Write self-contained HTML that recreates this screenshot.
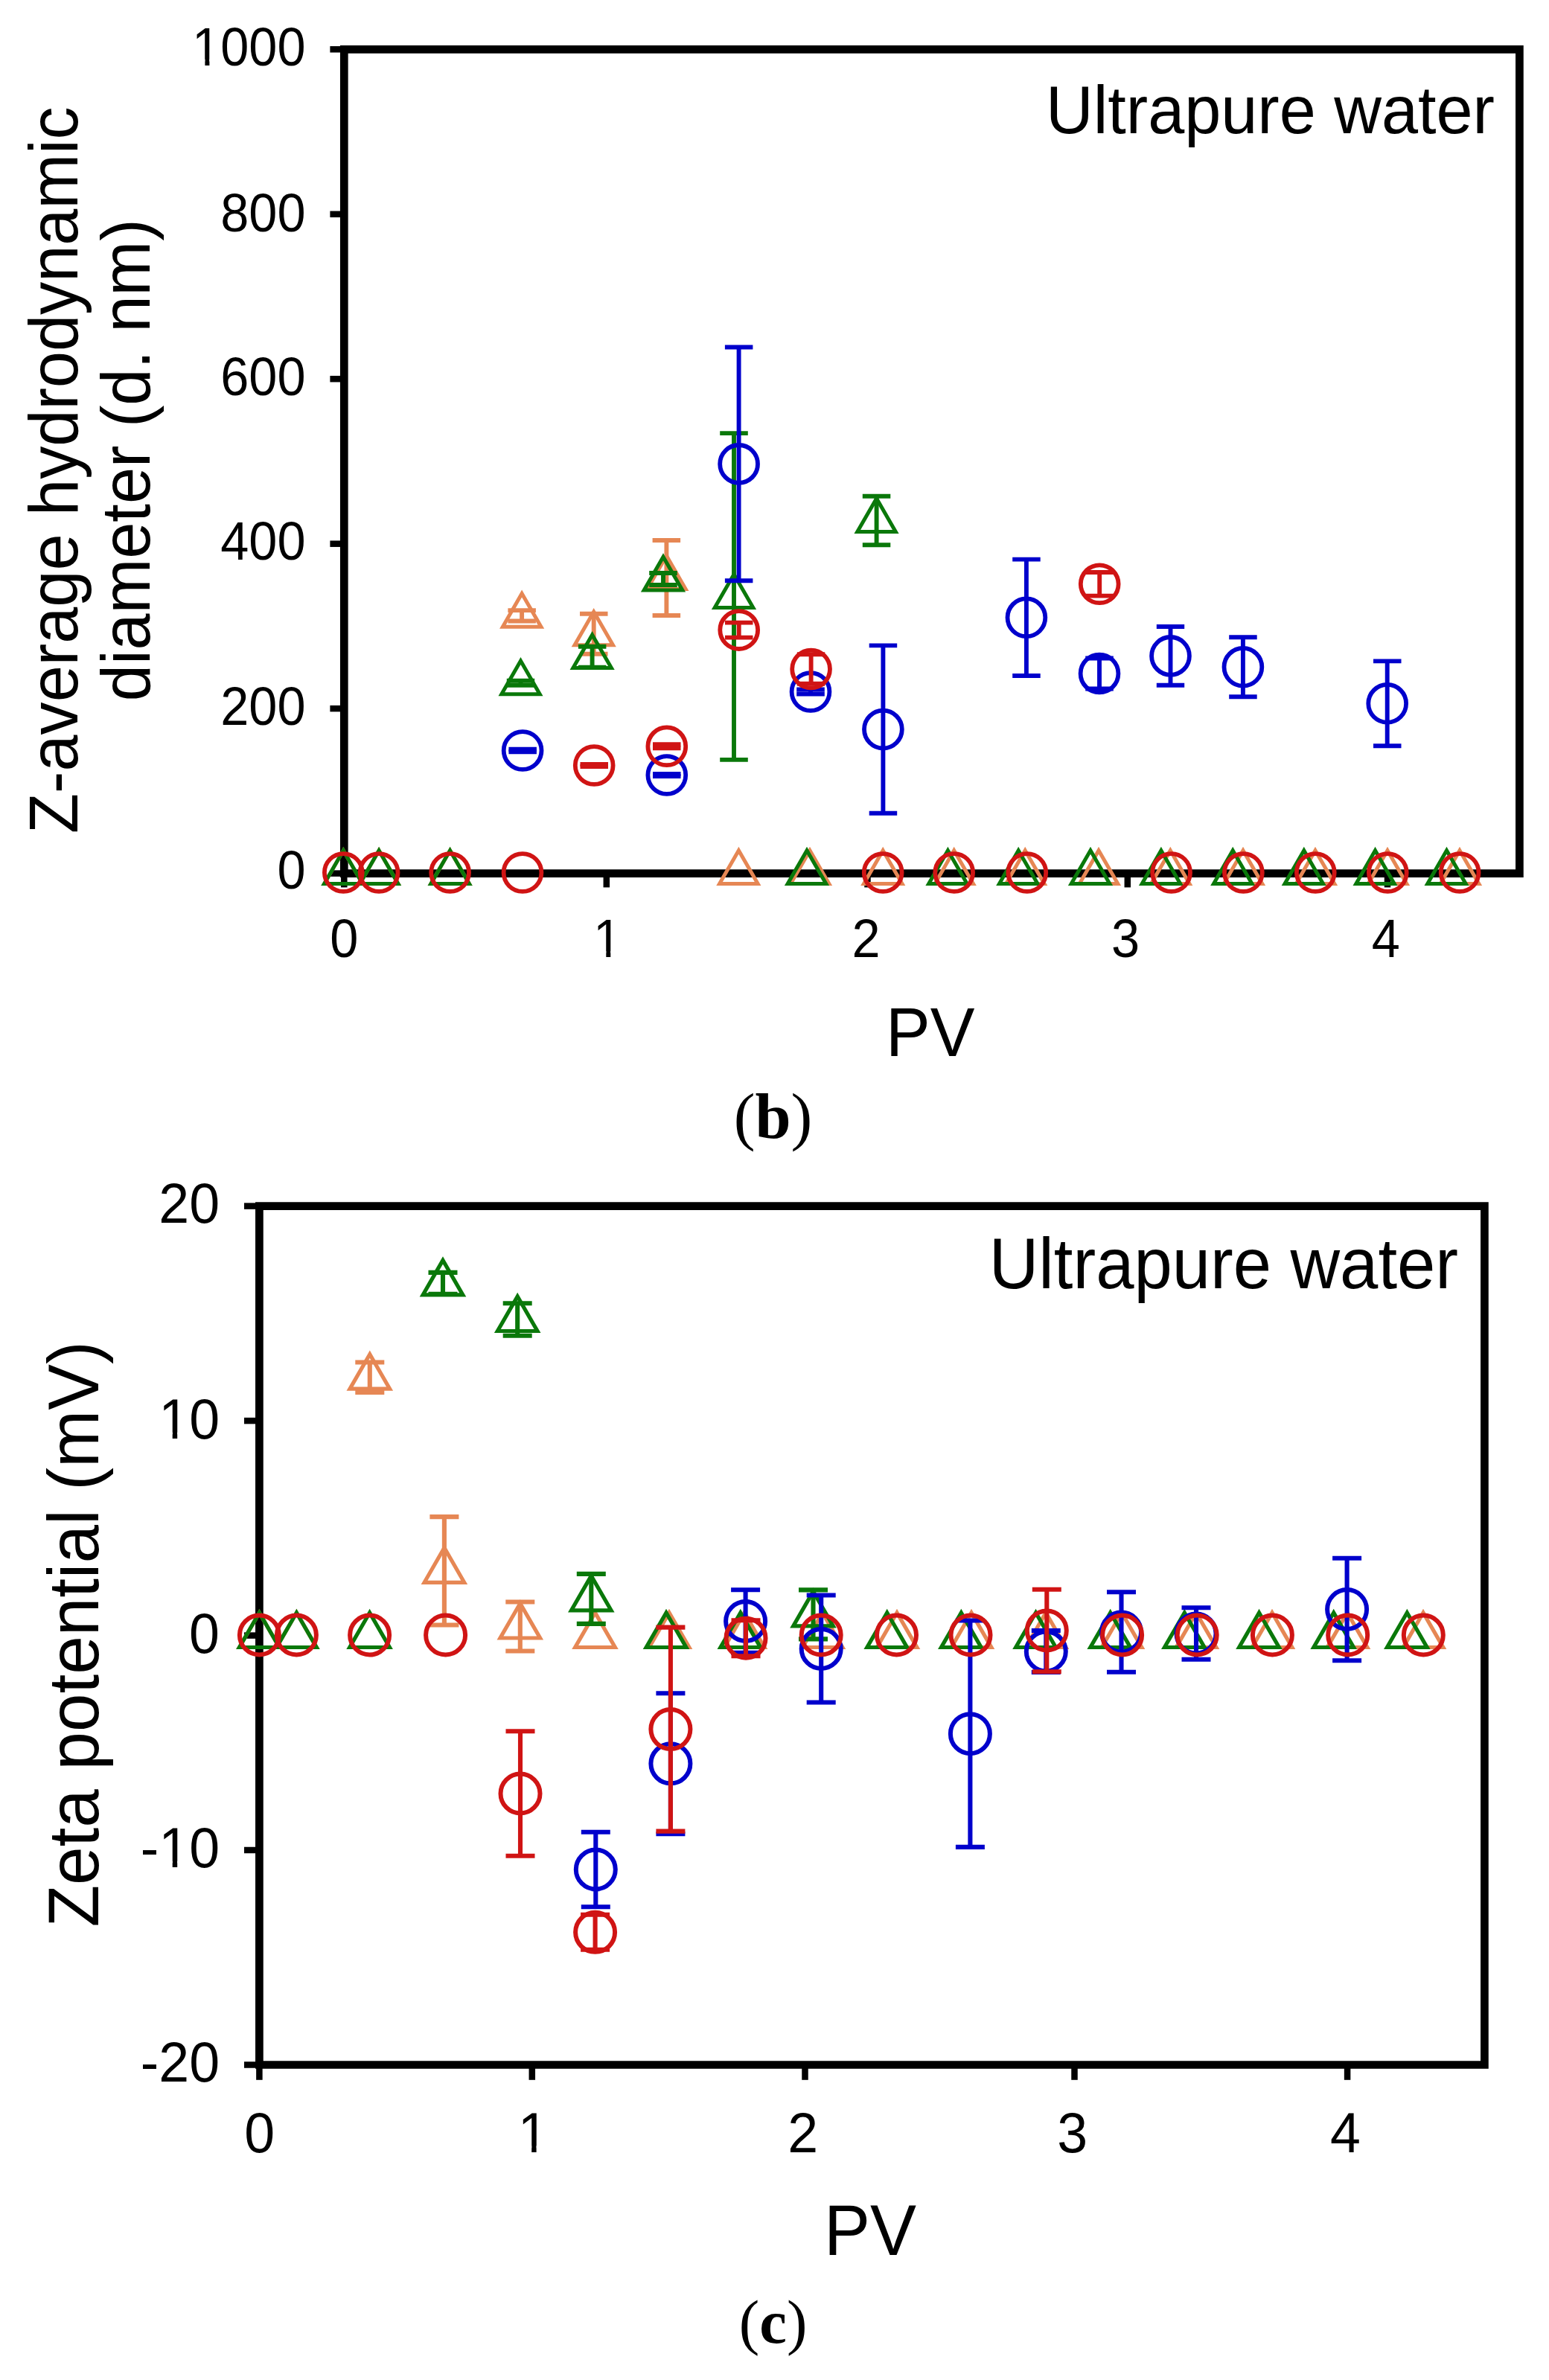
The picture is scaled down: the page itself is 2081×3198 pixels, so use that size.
<!DOCTYPE html>
<html><head><meta charset="utf-8"><title>Figure</title>
<style>html,body{margin:0;padding:0;background:#fff;overflow:hidden;width:2081px;height:3198px;}svg{display:block;}</style>
</head><body>
<svg width="2081" height="3198" viewBox="0 0 2081 3198">
<rect width="2081" height="3198" fill="#fff"/>
<g stroke="#000" fill="none"><path d="M462.3 66.3H2041.4V1173.6H462.3Z" stroke-width="10.7" stroke-linejoin="miter"/><line x1="462.3" y1="1173.6" x2="462.3" y2="1192.4" stroke-width="8.5"/><line x1="814.8" y1="1173.6" x2="814.8" y2="1192.4" stroke-width="8.5"/><line x1="1165.5" y1="1173.6" x2="1165.5" y2="1192.4" stroke-width="8.5"/><line x1="1514.8" y1="1173.6" x2="1514.8" y2="1192.4" stroke-width="8.5"/><line x1="1864" y1="1173.6" x2="1864" y2="1192.4" stroke-width="8.5"/><line x1="462.3" y1="1173.6" x2="443.4" y2="1173.6" stroke-width="8.5"/><line x1="462.3" y1="952.1" x2="443.4" y2="952.1" stroke-width="8.5"/><line x1="462.3" y1="730.7" x2="443.4" y2="730.7" stroke-width="8.5"/><line x1="462.3" y1="509.2" x2="443.4" y2="509.2" stroke-width="8.5"/><line x1="462.3" y1="287.8" x2="443.4" y2="287.8" stroke-width="8.5"/><line x1="462.3" y1="66.3" x2="443.4" y2="66.3" stroke-width="8.5"/></g>
<g stroke="#e68754" fill="none"><g stroke-width="5.9" stroke-linecap="butt"><line x1="701.1" y1="820.1" x2="701.1" y2="834.5"/><line x1="682.4" y1="820.1" x2="719.9" y2="820.1"/><line x1="682.4" y1="834.5" x2="719.9" y2="834.5"/><line x1="797.7" y1="824.8" x2="797.7" y2="878.8"/><line x1="779" y1="824.8" x2="816.5" y2="824.8"/><line x1="779" y1="878.8" x2="816.5" y2="878.8"/><line x1="895.4" y1="726" x2="895.4" y2="827"/><line x1="876.6" y1="726" x2="914.1" y2="726"/><line x1="876.6" y1="827" x2="914.1" y2="827"/></g><g stroke-width="5" stroke-linejoin="miter" stroke-miterlimit="10"><polygon points="461.3,1142.8 435.6,1187.4 487.1,1187.4"/><polygon points="509.1,1142.8 483.4,1187.4 534.9,1187.4"/><polygon points="604.6,1142.8 578.9,1187.4 630.4,1187.4"/><polygon points="701.1,797.6 675.4,842.2 726.9,842.2"/><polygon points="797.7,822.1 772,866.7 823.5,866.7"/><polygon points="895.4,746.8 869.6,791.4 921.1,791.4"/><polygon points="992.4,1142.8 966.6,1187.4 1018.1,1187.4"/><polygon points="1088,1142.8 1062.2,1187.4 1113.8,1187.4"/><polygon points="1186.2,1142.8 1160.5,1187.4 1212,1187.4"/><polygon points="1281.7,1142.8 1256,1187.4 1307.5,1187.4"/><polygon points="1377.2,1142.8 1351.5,1187.4 1403,1187.4"/><polygon points="1476,1142.8 1450.2,1187.4 1501.8,1187.4"/><polygon points="1572.3,1142.8 1546.5,1187.4 1598,1187.4"/><polygon points="1670,1142.8 1644.2,1187.4 1695.8,1187.4"/><polygon points="1767,1142.8 1741.2,1187.4 1792.8,1187.4"/><polygon points="1864,1142.8 1838.2,1187.4 1889.8,1187.4"/><polygon points="1961,1142.8 1935.2,1187.4 1986.8,1187.4"/></g></g>
<g stroke="#0a780a" fill="none"><g stroke-width="5.9" stroke-linecap="butt"><line x1="699.5" y1="914.8" x2="699.5" y2="920.8"/><line x1="680.8" y1="914.8" x2="718.2" y2="914.8"/><line x1="680.8" y1="920.8" x2="718.2" y2="920.8"/><line x1="795.6" y1="868.7" x2="795.6" y2="896.7"/><line x1="776.9" y1="868.7" x2="814.4" y2="868.7"/><line x1="776.9" y1="896.7" x2="814.4" y2="896.7"/><line x1="891" y1="770" x2="891" y2="786"/><line x1="872.2" y1="770" x2="909.8" y2="770"/><line x1="872.2" y1="786" x2="909.8" y2="786"/><line x1="986" y1="582.1" x2="986" y2="1020.9"/><line x1="967.2" y1="582.1" x2="1004.8" y2="582.1"/><line x1="967.2" y1="1020.9" x2="1004.8" y2="1020.9"/><line x1="1177.6" y1="666.8" x2="1177.6" y2="732.2"/><line x1="1158.8" y1="666.8" x2="1196.3" y2="666.8"/><line x1="1158.8" y1="732.2" x2="1196.3" y2="732.2"/></g><g stroke-width="5" stroke-linejoin="miter" stroke-miterlimit="10"><polygon points="461.3,1142.8 435.6,1187.4 487.1,1187.4"/><polygon points="509.1,1142.8 483.4,1187.4 534.9,1187.4"/><polygon points="604.6,1142.8 578.9,1187.4 630.4,1187.4"/><polygon points="699.5,888.1 673.8,932.7 725.2,932.7"/><polygon points="795.6,853 769.9,897.6 821.4,897.6"/><polygon points="891,748.3 865.2,792.9 916.8,792.9"/><polygon points="986,771.8 960.2,816.4 1011.8,816.4"/><polygon points="1084,1142.8 1058.2,1187.4 1109.8,1187.4"/><polygon points="1177.6,669.8 1151.8,714.4 1203.3,714.4"/><polygon points="1273.4,1142.8 1247.7,1187.4 1299.2,1187.4"/><polygon points="1368.2,1142.8 1342.5,1187.4 1394,1187.4"/><polygon points="1465,1142.8 1439.2,1187.4 1490.8,1187.4"/><polygon points="1559.9,1142.8 1534.2,1187.4 1585.7,1187.4"/><polygon points="1656.2,1142.8 1630.5,1187.4 1682,1187.4"/><polygon points="1751.8,1142.8 1726,1187.4 1777.5,1187.4"/><polygon points="1847.5,1142.8 1821.8,1187.4 1873.2,1187.4"/><polygon points="1943.5,1142.8 1917.8,1187.4 1969.2,1187.4"/></g></g>
<g stroke="#0000cc" fill="none"><g stroke-width="5.9" stroke-linecap="butt"><line x1="702.1" y1="1006.7" x2="702.1" y2="1010.3"/><line x1="683.4" y1="1006.7" x2="720.9" y2="1006.7"/><line x1="683.4" y1="1010.3" x2="720.9" y2="1010.3"/><line x1="895.8" y1="1040" x2="895.8" y2="1043"/><line x1="877" y1="1040" x2="914.5" y2="1040"/><line x1="877" y1="1043" x2="914.5" y2="1043"/><line x1="992.6" y1="466.5" x2="992.6" y2="780.3"/><line x1="973.9" y1="466.5" x2="1011.4" y2="466.5"/><line x1="973.9" y1="780.3" x2="1011.4" y2="780.3"/><line x1="1089" y1="926.5" x2="1089" y2="932.5"/><line x1="1070.2" y1="926.5" x2="1107.8" y2="926.5"/><line x1="1070.2" y1="932.5" x2="1107.8" y2="932.5"/><line x1="1186.4" y1="867.4" x2="1186.4" y2="1092.8"/><line x1="1167.7" y1="867.4" x2="1205.2" y2="867.4"/><line x1="1167.7" y1="1092.8" x2="1205.2" y2="1092.8"/><line x1="1378.9" y1="751.6" x2="1378.9" y2="908"/><line x1="1360.2" y1="751.6" x2="1397.7" y2="751.6"/><line x1="1360.2" y1="908" x2="1397.7" y2="908"/><line x1="1477" y1="884.5" x2="1477" y2="925.5"/><line x1="1458.2" y1="884.5" x2="1495.8" y2="884.5"/><line x1="1458.2" y1="925.5" x2="1495.8" y2="925.5"/><line x1="1572.5" y1="842" x2="1572.5" y2="920.8"/><line x1="1553.8" y1="842" x2="1591.2" y2="842"/><line x1="1553.8" y1="920.8" x2="1591.2" y2="920.8"/><line x1="1669.9" y1="856.3" x2="1669.9" y2="936.3"/><line x1="1651.2" y1="856.3" x2="1688.7" y2="856.3"/><line x1="1651.2" y1="936.3" x2="1688.7" y2="936.3"/><line x1="1863.7" y1="888.4" x2="1863.7" y2="1002.2"/><line x1="1845" y1="888.4" x2="1882.5" y2="888.4"/><line x1="1845" y1="1002.2" x2="1882.5" y2="1002.2"/></g><g stroke-width="5.8" stroke-linejoin="miter" stroke-miterlimit="10"><circle cx="702.1" cy="1008.5" r="25.4"/><circle cx="895.8" cy="1041.5" r="25.4"/><circle cx="992.6" cy="623.4" r="25.4"/><circle cx="1089" cy="929.5" r="25.4"/><circle cx="1186.4" cy="980.1" r="25.4"/><circle cx="1378.9" cy="829.8" r="25.4"/><circle cx="1477" cy="905" r="25.4"/><circle cx="1572.5" cy="881.4" r="25.4"/><circle cx="1669.9" cy="896.3" r="25.4"/><circle cx="1863.7" cy="945.3" r="25.4"/></g></g>
<g stroke="#d01414" fill="none"><g stroke-width="5.9" stroke-linecap="butt"><line x1="798.2" y1="1027" x2="798.2" y2="1030"/><line x1="779.5" y1="1027" x2="817" y2="1027"/><line x1="779.5" y1="1030" x2="817" y2="1030"/><line x1="895.8" y1="1000.3" x2="895.8" y2="1005.3"/><line x1="877" y1="1000.3" x2="914.5" y2="1000.3"/><line x1="877" y1="1005.3" x2="914.5" y2="1005.3"/><line x1="992.7" y1="836.6" x2="992.7" y2="856.6"/><line x1="974" y1="836.6" x2="1011.5" y2="836.6"/><line x1="974" y1="856.6" x2="1011.5" y2="856.6"/><line x1="1089.6" y1="879.2" x2="1089.6" y2="918.8"/><line x1="1070.8" y1="879.2" x2="1108.3" y2="879.2"/><line x1="1070.8" y1="918.8" x2="1108.3" y2="918.8"/><line x1="1477.2" y1="769" x2="1477.2" y2="800.6"/><line x1="1458.5" y1="769" x2="1496" y2="769"/><line x1="1458.5" y1="800.6" x2="1496" y2="800.6"/></g><g stroke-width="5.8" stroke-linejoin="miter" stroke-miterlimit="10"><circle cx="461.3" cy="1172.5" r="25.4"/><circle cx="509.1" cy="1172.5" r="25.4"/><circle cx="604.6" cy="1172.5" r="25.4"/><circle cx="702" cy="1172.5" r="25.4"/><circle cx="798.2" cy="1028.5" r="25.4"/><circle cx="895.8" cy="1002.8" r="25.4"/><circle cx="992.7" cy="846.6" r="25.4"/><circle cx="1089.6" cy="899" r="25.4"/><circle cx="1186.2" cy="1172.5" r="25.4"/><circle cx="1281.7" cy="1172.5" r="25.4"/><circle cx="1379.8" cy="1172.5" r="25.4"/><circle cx="1477.2" cy="784.8" r="25.4"/><circle cx="1573.6" cy="1172.5" r="25.4"/><circle cx="1670.4" cy="1172.5" r="25.4"/><circle cx="1767.3" cy="1172.5" r="25.4"/><circle cx="1864.3" cy="1172.5" r="25.4"/><circle cx="1961.1" cy="1172.5" r="25.4"/></g></g>
<g stroke="#000" fill="none"><path d="M348.4 1620.6H1994.4V2774.5H348.4Z" stroke-width="10.7" stroke-linejoin="miter"/><line x1="348.4" y1="2774.5" x2="348.4" y2="2794.8" stroke-width="8.5"/><line x1="714.8" y1="2774.5" x2="714.8" y2="2794.8" stroke-width="8.5"/><line x1="1081.5" y1="2774.5" x2="1081.5" y2="2794.8" stroke-width="8.5"/><line x1="1443.5" y1="2774.5" x2="1443.5" y2="2794.8" stroke-width="8.5"/><line x1="1810.1" y1="2774.5" x2="1810.1" y2="2794.8" stroke-width="8.5"/><line x1="348.4" y1="1620.6" x2="328" y2="1620.6" stroke-width="8.5"/><line x1="348.4" y1="1909.1" x2="328" y2="1909.1" stroke-width="8.5"/><line x1="348.4" y1="2197.6" x2="328" y2="2197.6" stroke-width="8.5"/><line x1="348.4" y1="2486" x2="328" y2="2486" stroke-width="8.5"/><line x1="348.4" y1="2774.5" x2="328" y2="2774.5" stroke-width="8.5"/></g>
<g stroke="#e68754" fill="none"><g stroke-width="6.1" stroke-linecap="butt"><line x1="496.8" y1="1830.5" x2="496.8" y2="1870.9"/><line x1="477.3" y1="1830.5" x2="516.3" y2="1830.5"/><line x1="477.3" y1="1870.9" x2="516.3" y2="1870.9"/><line x1="596.9" y1="2038.1" x2="596.9" y2="2183.5"/><line x1="577.4" y1="2038.1" x2="616.4" y2="2038.1"/><line x1="577.4" y1="2183.5" x2="616.4" y2="2183.5"/><line x1="698.8" y1="2152.5" x2="698.8" y2="2218.5"/><line x1="679.3" y1="2152.5" x2="718.3" y2="2152.5"/><line x1="679.3" y1="2218.5" x2="718.3" y2="2218.5"/></g><g stroke-width="5.2" stroke-linejoin="miter" stroke-miterlimit="10"><polygon points="348.4,2167 321.6,2213.5 375.2,2213.5"/><polygon points="398.4,2167 371.6,2213.5 425.2,2213.5"/><polygon points="496.8,1819.7 470,1866.2 523.6,1866.2"/><polygon points="596.9,2079.8 570.1,2126.3 623.7,2126.3"/><polygon points="698.8,2154.5 672,2201 725.6,2201"/><polygon points="799.5,2167 772.7,2213.5 826.3,2213.5"/><polygon points="899,2167 872.2,2213.5 925.8,2213.5"/><polygon points="1000,2167 973.2,2213.5 1026.8,2213.5"/><polygon points="1105,2167 1078.2,2213.5 1131.8,2213.5"/><polygon points="1205,2167 1178.2,2213.5 1231.8,2213.5"/><polygon points="1305,2167 1278.2,2213.5 1331.8,2213.5"/><polygon points="1405,2167 1378.2,2213.5 1431.8,2213.5"/><polygon points="1507,2167 1480.2,2213.5 1533.8,2213.5"/><polygon points="1607,2167 1580.2,2213.5 1633.8,2213.5"/><polygon points="1709,2167 1682.2,2213.5 1735.8,2213.5"/><polygon points="1810,2167 1783.2,2213.5 1836.8,2213.5"/><polygon points="1912,2167 1885.2,2213.5 1938.8,2213.5"/></g></g>
<g stroke="#0a780a" fill="none"><g stroke-width="6.1" stroke-linecap="butt"><line x1="595" y1="1709.9" x2="595" y2="1738.9"/><line x1="575.5" y1="1709.9" x2="614.5" y2="1709.9"/><line x1="575.5" y1="1738.9" x2="614.5" y2="1738.9"/><line x1="695.2" y1="1751.3" x2="695.2" y2="1794.7"/><line x1="675.7" y1="1751.3" x2="714.7" y2="1751.3"/><line x1="675.7" y1="1794.7" x2="714.7" y2="1794.7"/><line x1="794.3" y1="2114.9" x2="794.3" y2="2181.9"/><line x1="774.8" y1="2114.9" x2="813.8" y2="2114.9"/><line x1="774.8" y1="2181.9" x2="813.8" y2="2181.9"/><line x1="1092.5" y1="2136.4" x2="1092.5" y2="2202.4"/><line x1="1073" y1="2136.4" x2="1112" y2="2136.4"/><line x1="1073" y1="2202.4" x2="1112" y2="2202.4"/></g><g stroke-width="5.2" stroke-linejoin="miter" stroke-miterlimit="10"><polygon points="348.4,2167 321.6,2213.5 375.2,2213.5"/><polygon points="398.4,2167 371.6,2213.5 425.2,2213.5"/><polygon points="496.6,2167 469.8,2213.5 523.4,2213.5"/><polygon points="595,1693.4 568.2,1739.9 621.8,1739.9"/><polygon points="695.2,1742 668.4,1788.5 722,1788.5"/><polygon points="794.3,2117.4 767.5,2163.9 821.1,2163.9"/><polygon points="895,2167 868.2,2213.5 921.8,2213.5"/><polygon points="994.8,2167 968,2213.5 1021.6,2213.5"/><polygon points="1092.5,2138.4 1065.7,2184.9 1119.3,2184.9"/><polygon points="1191.7,2167 1164.9,2213.5 1218.5,2213.5"/><polygon points="1291.3,2167 1264.5,2213.5 1318.1,2213.5"/><polygon points="1391.5,2167 1364.7,2213.5 1418.3,2213.5"/><polygon points="1491.7,2167 1464.9,2213.5 1518.5,2213.5"/><polygon points="1591.3,2167 1564.5,2213.5 1618.1,2213.5"/><polygon points="1691.5,2167 1664.7,2213.5 1718.3,2213.5"/><polygon points="1791.7,2167 1764.9,2213.5 1818.5,2213.5"/><polygon points="1890.3,2167 1863.5,2213.5 1917.1,2213.5"/></g></g>
<g stroke="#0000cc" fill="none"><g stroke-width="6.1" stroke-linecap="butt"><line x1="800.3" y1="2461.7" x2="800.3" y2="2562.3"/><line x1="780.8" y1="2461.7" x2="819.8" y2="2461.7"/><line x1="780.8" y1="2562.3" x2="819.8" y2="2562.3"/><line x1="900.9" y1="2275.3" x2="900.9" y2="2464.3"/><line x1="881.4" y1="2275.3" x2="920.4" y2="2275.3"/><line x1="881.4" y1="2464.3" x2="920.4" y2="2464.3"/><line x1="1001.6" y1="2136.2" x2="1001.6" y2="2220.8"/><line x1="982.1" y1="2136.2" x2="1021.1" y2="2136.2"/><line x1="982.1" y1="2220.8" x2="1021.1" y2="2220.8"/><line x1="1103.2" y1="2143.5" x2="1103.2" y2="2287.5"/><line x1="1083.7" y1="2143.5" x2="1122.7" y2="2143.5"/><line x1="1083.7" y1="2287.5" x2="1122.7" y2="2287.5"/><line x1="1303.4" y1="2177.5" x2="1303.4" y2="2481.9"/><line x1="1283.9" y1="2177.5" x2="1322.9" y2="2177.5"/><line x1="1283.9" y1="2481.9" x2="1322.9" y2="2481.9"/><line x1="1405.3" y1="2191" x2="1405.3" y2="2247"/><line x1="1385.8" y1="2191" x2="1424.8" y2="2191"/><line x1="1385.8" y1="2247" x2="1424.8" y2="2247"/><line x1="1506.5" y1="2139.3" x2="1506.5" y2="2246.7"/><line x1="1487" y1="2139.3" x2="1526" y2="2139.3"/><line x1="1487" y1="2246.7" x2="1526" y2="2246.7"/><line x1="1607" y1="2160.3" x2="1607" y2="2229.7"/><line x1="1587.5" y1="2160.3" x2="1626.5" y2="2160.3"/><line x1="1587.5" y1="2229.7" x2="1626.5" y2="2229.7"/><line x1="1809.6" y1="2093.8" x2="1809.6" y2="2231.2"/><line x1="1790.1" y1="2093.8" x2="1829.1" y2="2093.8"/><line x1="1790.1" y1="2231.2" x2="1829.1" y2="2231.2"/></g><g stroke-width="6" stroke-linejoin="miter" stroke-miterlimit="10"><circle cx="800.3" cy="2512" r="26.5"/><circle cx="900.9" cy="2369.8" r="26.5"/><circle cx="1001.6" cy="2178.5" r="26.5"/><circle cx="1103.2" cy="2215.5" r="26.5"/><circle cx="1303.4" cy="2329.7" r="26.5"/><circle cx="1405.3" cy="2219" r="26.5"/><circle cx="1506.5" cy="2193" r="26.5"/><circle cx="1607" cy="2195" r="26.5"/><circle cx="1809.6" cy="2162.5" r="26.5"/></g></g>
<g stroke="#d01414" fill="none"><g stroke-width="6.1" stroke-linecap="butt"><line x1="699" y1="2326.3" x2="699" y2="2493.7"/><line x1="679.5" y1="2326.3" x2="718.5" y2="2326.3"/><line x1="679.5" y1="2493.7" x2="718.5" y2="2493.7"/><line x1="799.6" y1="2572.8" x2="799.6" y2="2619.8"/><line x1="780.1" y1="2572.8" x2="819.1" y2="2572.8"/><line x1="780.1" y1="2619.8" x2="819.1" y2="2619.8"/><line x1="900.9" y1="2186.6" x2="900.9" y2="2460.6"/><line x1="881.4" y1="2186.6" x2="920.4" y2="2186.6"/><line x1="881.4" y1="2460.6" x2="920.4" y2="2460.6"/><line x1="1002" y1="2177.2" x2="1002" y2="2225.2"/><line x1="982.5" y1="2177.2" x2="1021.5" y2="2177.2"/><line x1="982.5" y1="2225.2" x2="1021.5" y2="2225.2"/><line x1="1406.3" y1="2135.7" x2="1406.3" y2="2246.3"/><line x1="1386.8" y1="2135.7" x2="1425.8" y2="2135.7"/><line x1="1386.8" y1="2246.3" x2="1425.8" y2="2246.3"/></g><g stroke-width="6" stroke-linejoin="miter" stroke-miterlimit="10"><circle cx="348.4" cy="2197" r="26.5"/><circle cx="398.4" cy="2197" r="26.5"/><circle cx="496.6" cy="2197" r="26.5"/><circle cx="598.6" cy="2197" r="26.5"/><circle cx="699" cy="2410" r="26.5"/><circle cx="799.6" cy="2596.3" r="26.5"/><circle cx="900.9" cy="2323.6" r="26.5"/><circle cx="1002" cy="2201.2" r="26.5"/><circle cx="1103.2" cy="2197" r="26.5"/><circle cx="1204.5" cy="2197" r="26.5"/><circle cx="1304" cy="2197" r="26.5"/><circle cx="1406.3" cy="2191" r="26.5"/><circle cx="1507.6" cy="2197" r="26.5"/><circle cx="1608.2" cy="2197" r="26.5"/><circle cx="1709.4" cy="2197" r="26.5"/><circle cx="1810.7" cy="2197" r="26.5"/><circle cx="1912.3" cy="2197" r="26.5"/></g></g>
<g fill="#000"><g transform="translate(410.5 1194.1) scale(1 1.065)"><text style="font-family:'Liberation Sans',Arial,sans-serif;font-size:68.5px" text-anchor="end">0</text></g><g transform="translate(410.5 973.7) scale(1 1.065)"><text style="font-family:'Liberation Sans',Arial,sans-serif;font-size:68.5px" text-anchor="end">200</text></g><g transform="translate(410.5 752.3) scale(1 1.065)"><text style="font-family:'Liberation Sans',Arial,sans-serif;font-size:68.5px" text-anchor="end">400</text></g><g transform="translate(410.5 530.8) scale(1 1.065)"><text style="font-family:'Liberation Sans',Arial,sans-serif;font-size:68.5px" text-anchor="end">600</text></g><g transform="translate(410.5 310.5) scale(1 1.065)"><text style="font-family:'Liberation Sans',Arial,sans-serif;font-size:68.5px" text-anchor="end">800</text></g><g transform="translate(410.5 87.6) scale(1 1.065)"><text style="font-family:'Liberation Sans',Arial,sans-serif;font-size:68.5px" text-anchor="end">1000</text><rect x="-149" y="-7.4" width="13.9" height="10.4" fill="#fff"/><rect x="-129.1" y="-7.4" width="13.5" height="10.4" fill="#fff"/></g><g transform="translate(462.4 1285.8) scale(1 1.05)"><text style="font-family:'Liberation Sans',Arial,sans-serif;font-size:68.5px" text-anchor="middle">0</text></g><g transform="translate(816.1 1285.8) scale(1 1.05)"><text style="font-family:'Liberation Sans',Arial,sans-serif;font-size:68.5px" text-anchor="middle">1</text><rect x="-15.7" y="-7.4" width="13.9" height="10.4" fill="#fff"/><rect x="4.2" y="-7.4" width="13.5" height="10.4" fill="#fff"/></g><g transform="translate(1163.5 1285.8) scale(1 1.05)"><text style="font-family:'Liberation Sans',Arial,sans-serif;font-size:68.5px" text-anchor="middle">2</text></g><g transform="translate(1512.1 1285.8) scale(1 1.05)"><text style="font-family:'Liberation Sans',Arial,sans-serif;font-size:68.5px" text-anchor="middle">3</text></g><g transform="translate(1861.7 1285.8) scale(1 1.05)"><text style="font-family:'Liberation Sans',Arial,sans-serif;font-size:68.5px" text-anchor="middle">4</text></g><g transform="translate(1249.8 1419.3) scale(1 1.04)"><text style="font-family:'Liberation Sans',Arial,sans-serif;font-size:89.5px" text-anchor="middle">PV</text></g><g transform="translate(1405 178.8) scale(1 1.04)"><text style="font-family:'Liberation Sans',Arial,sans-serif;font-size:88.2px" text-anchor="start">Ultrapure water</text></g><text transform="translate(103.8 631.6) rotate(-90) scale(1 1.04)" style="font-family:'Liberation Sans',Arial,sans-serif;font-size:88.3px" text-anchor="middle">Z-average hydrodynamic</text><text transform="translate(201.3 618.3) rotate(-90) scale(1 1.04)" style="font-family:'Liberation Sans',Arial,sans-serif;font-size:88.3px" text-anchor="middle">diameter (d. nm)</text><text x="1038.5" y="1529.4" style="font-family:'Liberation Serif','Times New Roman',serif;font-size:86.5px" text-anchor="middle">(<tspan style="font-weight:bold">b</tspan>)</text><g transform="translate(295 1642.6) scale(1 1.04)"><text style="font-family:'Liberation Sans',Arial,sans-serif;font-size:73.5px" text-anchor="end">20</text></g><g transform="translate(295 1932.9) scale(1 1.04)"><text style="font-family:'Liberation Sans',Arial,sans-serif;font-size:73.5px" text-anchor="end">10</text><rect x="-78.2" y="-7.9" width="14.9" height="10.9" fill="#fff"/><rect x="-56.8" y="-7.9" width="14.5" height="10.9" fill="#fff"/></g><g transform="translate(295 2220.9) scale(1 1.04)"><text style="font-family:'Liberation Sans',Arial,sans-serif;font-size:73.5px" text-anchor="end">0</text></g><g transform="translate(295 2509) scale(1 1.04)"><text style="font-family:'Liberation Sans',Arial,sans-serif;font-size:73.5px" text-anchor="end">-10</text><rect x="-78.2" y="-7.9" width="14.9" height="10.9" fill="#fff"/><rect x="-56.8" y="-7.9" width="14.5" height="10.9" fill="#fff"/></g><g transform="translate(295 2797) scale(1 1.04)"><text style="font-family:'Liberation Sans',Arial,sans-serif;font-size:73.5px" text-anchor="end">-20</text></g><g transform="translate(348.7 2891.5) scale(1 1.04)"><text style="font-family:'Liberation Sans',Arial,sans-serif;font-size:73.5px" text-anchor="middle">0</text></g><g transform="translate(716.1 2891.5) scale(1 1.04)"><text style="font-family:'Liberation Sans',Arial,sans-serif;font-size:73.5px" text-anchor="middle">1</text><rect x="-16.8" y="-7.9" width="14.9" height="10.9" fill="#fff"/><rect x="4.5" y="-7.9" width="14.5" height="10.9" fill="#fff"/></g><g transform="translate(1078.8 2891.5) scale(1 1.04)"><text style="font-family:'Liberation Sans',Arial,sans-serif;font-size:73.5px" text-anchor="middle">2</text></g><g transform="translate(1440.8 2891.5) scale(1 1.04)"><text style="font-family:'Liberation Sans',Arial,sans-serif;font-size:73.5px" text-anchor="middle">3</text></g><g transform="translate(1807.4 2891.5) scale(1 1.04)"><text style="font-family:'Liberation Sans',Arial,sans-serif;font-size:73.5px" text-anchor="middle">4</text></g><g transform="translate(1169 3030.1) scale(1 1.04)"><text style="font-family:'Liberation Sans',Arial,sans-serif;font-size:93px" text-anchor="middle">PV</text></g><g transform="translate(1328.8 1731.3) scale(1 1.04)"><text style="font-family:'Liberation Sans',Arial,sans-serif;font-size:92.2px" text-anchor="start">Ultrapure water</text></g><text transform="translate(132 2195.9) rotate(-90) scale(1 1.04)" style="font-family:'Liberation Sans',Arial,sans-serif;font-size:92.6px" text-anchor="middle">Zeta potential (mV)</text><text x="1038.6" y="3147.8" style="font-family:'Liberation Serif','Times New Roman',serif;font-size:82.5px" text-anchor="middle">(<tspan style="font-weight:bold">c</tspan>)</text></g>
</svg>
</body></html>
